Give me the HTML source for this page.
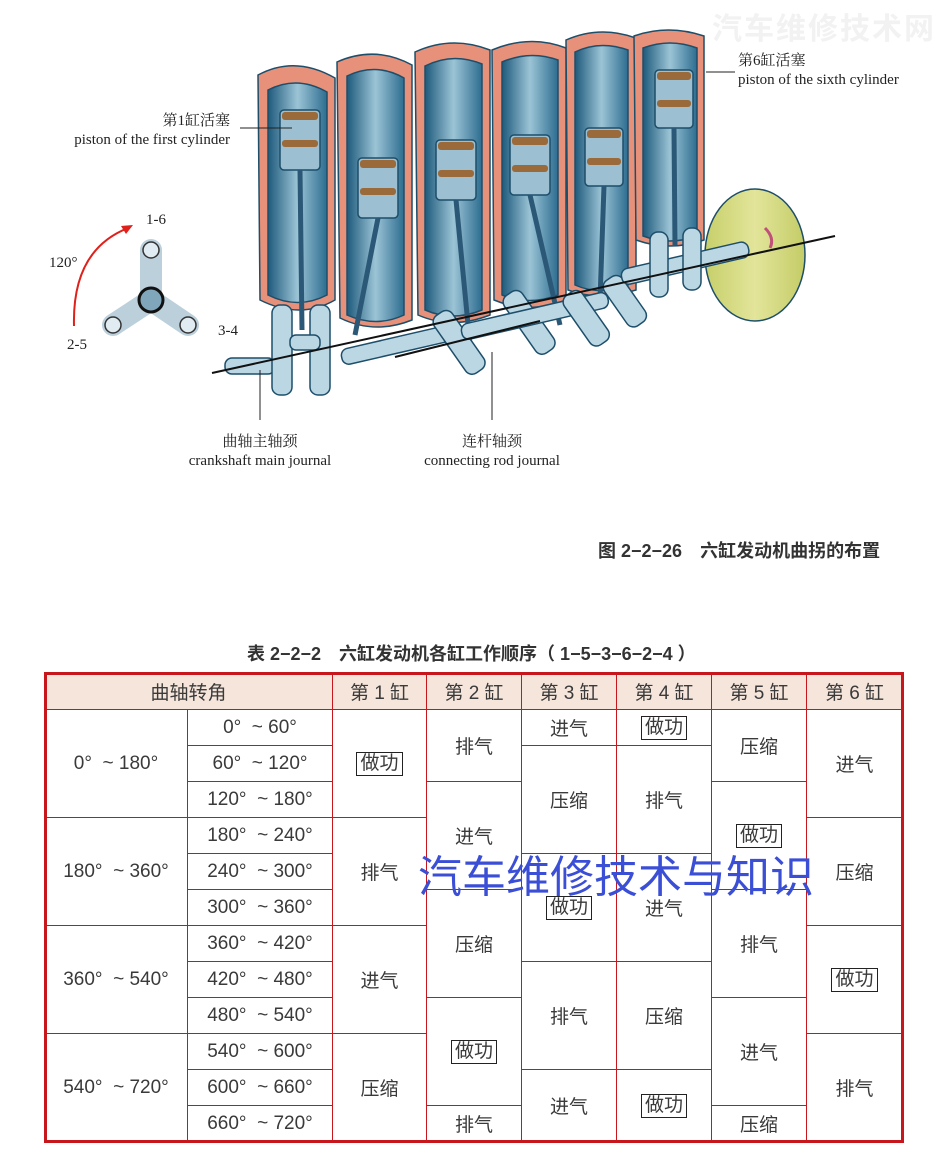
<!DOCTYPE html>
<html><head><meta charset="utf-8"><style>
body{margin:0;width:948px;height:1161px;background:#fff;position:relative;overflow:hidden;font-family:"Liberation Sans","Noto Sans CJK SC",sans-serif;}
.c{position:absolute;box-sizing:border-box;border-right:1px solid #c8161d;border-bottom:1px solid #c8161d;display:flex;align-items:center;justify-content:center;font-size:19px;color:#3a3a3a;white-space:pre;}
.h{background:#f6e5db;}
.b{border:1.5px solid #222;padding:0 3px;line-height:22px;}
.t{position:absolute;font-family:"Liberation Serif","Noto Serif CJK SC",serif;font-size:15px;color:#222;line-height:19px;white-space:nowrap;}
</style></head><body>
<svg width="948" height="620" style="position:absolute;left:0;top:0">
<defs>
<linearGradient id="cy" x1="0" x2="1"><stop offset="0" stop-color="#1e5a7c"/><stop offset=".5" stop-color="#9cc4d6"/><stop offset="1" stop-color="#2d6d90"/></linearGradient>
<linearGradient id="fw" x1="0" x2="1"><stop offset="0" stop-color="#c7cf6a"/><stop offset=".5" stop-color="#e2e59a"/><stop offset="1" stop-color="#c4cc66"/></linearGradient>
</defs>
<g stroke="#1d4e6a" stroke-width="1.5">
<path d="M258,75 Q295,55 335,78 L335,300 Q300,320 260,300 Z" fill="#e8917a"/><path d="M268,90 Q297,75 327,92 L327,295 Q298,310 268,295 Z" fill="url(#cy)"/>
<path d="M337,62 Q375,45 412,65 L412,320 Q375,335 340,318 Z" fill="#e8917a"/><path d="M347,76 Q376,62 404,78 L404,315 Q376,328 347,315 Z" fill="url(#cy)"/>
<path d="M415,52 Q452,35 490,50 L490,315 Q452,330 418,315 Z" fill="#e8917a"/><path d="M425,66 Q453,52 482,64 L482,310 Q453,322 425,310 Z" fill="url(#cy)"/>
<path d="M492,50 Q530,34 566,48 L566,300 Q530,315 494,300 Z" fill="#e8917a"/><path d="M502,62 Q530,50 558,60 L558,295 Q530,306 502,295 Z" fill="url(#cy)"/>
<path d="M566,40 Q600,25 636,38 L636,290 Q600,302 568,290 Z" fill="#e8917a"/><path d="M575,52 Q600,40 628,50 L628,285 Q600,296 575,285 Z" fill="url(#cy)"/>
<path d="M634,36 Q668,24 704,36 L704,240 Q670,252 636,240 Z" fill="#e8917a"/><path d="M643,48 Q670,38 697,48 L697,236 Q670,246 643,236 Z" fill="url(#cy)"/>
</g>
<g fill="#9cc0d2" stroke="#1d4e6a" stroke-width="1.5">
<rect x="280" y="110" width="40" height="60" rx="4"/><rect x="358" y="158" width="40" height="60" rx="4"/><rect x="436" y="140" width="40" height="60" rx="4"/><rect x="510" y="135" width="40" height="60" rx="4"/><rect x="585" y="128" width="38" height="58" rx="4"/><rect x="655" y="70" width="38" height="58" rx="4"/>
</g>
<g fill="#9a6a3a"><rect x="282" y="112" width="36" height="8" rx="3"/><rect x="282" y="140" width="36" height="7" rx="3"/><rect x="360" y="160" width="36" height="8" rx="3"/><rect x="360" y="188" width="36" height="7" rx="3"/><rect x="438" y="142" width="36" height="8" rx="3"/><rect x="438" y="170" width="36" height="7" rx="3"/><rect x="512" y="137" width="36" height="8" rx="3"/><rect x="512" y="165" width="36" height="7" rx="3"/><rect x="587" y="130" width="34" height="8" rx="3"/><rect x="587" y="158" width="34" height="7" rx="3"/><rect x="657" y="72" width="34" height="8" rx="3"/><rect x="657" y="100" width="34" height="7" rx="3"/></g>
<g stroke="#2c5877" stroke-width="5"><line x1="300" y1="170" x2="302" y2="330"/><line x1="378" y1="218" x2="355" y2="335"/><line x1="456" y1="200" x2="470" y2="345"/><line x1="530" y1="195" x2="560" y2="325"/><line x1="604" y1="186" x2="600" y2="300"/><line x1="674" y1="128" x2="675" y2="245"/></g>
<ellipse cx="755" cy="255" rx="50" ry="66" fill="url(#fw)" stroke="#1d4e6a" stroke-width="1.5"/>
<path d="M765,228 Q775,238 770,248" stroke="#c0507a" stroke-width="3" fill="none"/>
<g fill="#bcd7e4" stroke="#1d4e6a" stroke-width="1.5">
<rect x="225" y="358" width="50" height="16" rx="7"/><rect x="272" y="305" width="20" height="90" rx="8"/><rect x="310" y="305" width="20" height="90" rx="8"/><rect x="290" y="335" width="30" height="15" rx="6"/>
<rect x="340" y="350" width="110" height="16" rx="7" transform="rotate(-13 340 350)"/>
<rect x="430" y="320" width="22" height="70" rx="8" transform="rotate(-35 430 320)"/><rect x="500" y="300" width="22" height="70" rx="8" transform="rotate(-35 500 300)"/>
<rect x="460" y="325" width="150" height="16" rx="7" transform="rotate(-13 460 325)"/>
<rect x="560" y="300" width="22" height="60" rx="8" transform="rotate(-35 560 300)"/><rect x="600" y="285" width="22" height="55" rx="8" transform="rotate(-35 600 285)"/>
<rect x="620" y="270" width="130" height="16" rx="7" transform="rotate(-13 620 270)"/>
<rect x="650" y="232" width="18" height="65" rx="8"/><rect x="683" y="228" width="18" height="62" rx="8"/>
</g>
<line x1="212" y1="373" x2="835" y2="236" stroke="#111" stroke-width="2"/>
<line x1="395" y1="357" x2="540" y2="321" stroke="#111" stroke-width="2"/>
<g stroke="#222" stroke-width="1"><line x1="240" y1="128" x2="292" y2="128"/><line x1="706" y1="72" x2="735" y2="72"/><line x1="260" y1="370" x2="260" y2="420"/><line x1="492" y1="352" x2="492" y2="420"/></g>
<g stroke="#333" stroke-width="1.5">
<line x1="151" y1="250" x2="151" y2="300" stroke="#bcd0dc" stroke-width="22" stroke-linecap="round"/>
<line x1="151" y1="300" x2="113" y2="325" stroke="#bcd0dc" stroke-width="22" stroke-linecap="round"/>
<line x1="151" y1="300" x2="188" y2="325" stroke="#bcd0dc" stroke-width="22" stroke-linecap="round"/>
<circle cx="151" cy="250" r="8" fill="#e0ecf2"/><circle cx="113" cy="325" r="8" fill="#e0ecf2"/><circle cx="188" cy="325" r="8" fill="#e0ecf2"/>
<circle cx="151" cy="300" r="12" fill="#7fa6ba" stroke="#111" stroke-width="3"/>
</g>
<path d="M74,326 Q72,250 128,228" stroke="#e0201a" stroke-width="2" fill="none"/><path d="M133,225 L121,226 L126,234 Z" fill="#e0201a"/>
</svg>
<div class="t" style="left:146px;top:211px">1-6</div>
<div class="t" style="left:49px;top:254px">120°</div>
<div class="t" style="left:67px;top:336px">2-5</div>
<div class="t" style="left:218px;top:322px">3-4</div>
<div class="t" style="left:30px;top:112px;text-align:right;width:200px">第1缸活塞<br>piston of the first cylinder</div>
<div class="t" style="left:738px;top:52px">第6缸活塞<br>piston of the sixth cylinder</div>
<div class="t" style="left:160px;top:433px;text-align:center;width:200px">曲轴主轴颈<br>crankshaft main journal</div>
<div class="t" style="left:392px;top:433px;text-align:center;width:200px">连杆轴颈<br>connecting rod journal</div>
<div style="position:absolute;left:712px;top:4px;font-size:30px;font-weight:bold;color:#f2f2f2;letter-spacing:2px">汽车维修技术网</div>
<div style="position:absolute;left:598px;top:537px;font-size:18px;font-weight:bold;color:#333;white-space:nowrap">图 2−2−26　六缸发动机曲拐的布置</div>
<div style="position:absolute;left:247px;top:640px;font-size:18px;font-weight:bold;color:#333;white-space:nowrap">表 2−2−2　六缸发动机各缸工作顺序（ 1−5−3−6−2−4 ）</div>

<div class="c h" style="left:45px;top:673px;width:288px;height:37px">曲轴转角</div>
<div class="c h" style="left:333px;top:673px;width:94px;height:37px">第 1 缸</div>
<div class="c h" style="left:427px;top:673px;width:95px;height:37px">第 2 缸</div>
<div class="c h" style="left:522px;top:673px;width:95px;height:37px">第 3 缸</div>
<div class="c h" style="left:617px;top:673px;width:95px;height:37px">第 4 缸</div>
<div class="c h" style="left:712px;top:673px;width:95px;height:37px">第 5 缸</div>
<div class="c h" style="left:807px;top:673px;width:96px;height:37px">第 6 缸</div>

<div class="c" style="left:45px;top:710px;width:143px;height:108px">0°  ~ 180°</div>
<div class="c" style="left:45px;top:818px;width:143px;height:108px">180°  ~ 360°</div>
<div class="c" style="left:45px;top:926px;width:143px;height:108px">360°  ~ 540°</div>
<div class="c" style="left:45px;top:1034px;width:143px;height:108px">540°  ~ 720°</div>

<div class="c" style="left:188px;top:710px;width:145px;height:36px">0°  ~ 60°</div>
<div class="c" style="left:188px;top:746px;width:145px;height:36px">60°  ~ 120°</div>
<div class="c" style="left:188px;top:782px;width:145px;height:36px">120°  ~ 180°</div>
<div class="c" style="left:188px;top:818px;width:145px;height:36px">180°  ~ 240°</div>
<div class="c" style="left:188px;top:854px;width:145px;height:36px">240°  ~ 300°</div>
<div class="c" style="left:188px;top:890px;width:145px;height:36px">300°  ~ 360°</div>
<div class="c" style="left:188px;top:926px;width:145px;height:36px">360°  ~ 420°</div>
<div class="c" style="left:188px;top:962px;width:145px;height:36px">420°  ~ 480°</div>
<div class="c" style="left:188px;top:998px;width:145px;height:36px">480°  ~ 540°</div>
<div class="c" style="left:188px;top:1034px;width:145px;height:36px">540°  ~ 600°</div>
<div class="c" style="left:188px;top:1070px;width:145px;height:36px">600°  ~ 660°</div>
<div class="c" style="left:188px;top:1106px;width:145px;height:36px">660°  ~ 720°</div>

<div class="c" style="left:333px;top:710px;width:94px;height:108px"><span class="b">做功</span></div>
<div class="c" style="left:333px;top:818px;width:94px;height:108px">排气</div>
<div class="c" style="left:333px;top:926px;width:94px;height:108px">进气</div>
<div class="c" style="left:333px;top:1034px;width:94px;height:108px">压缩</div>

<div class="c" style="left:427px;top:710px;width:95px;height:72px">排气</div>
<div class="c" style="left:427px;top:782px;width:95px;height:108px">进气</div>
<div class="c" style="left:427px;top:890px;width:95px;height:108px">压缩</div>
<div class="c" style="left:427px;top:998px;width:95px;height:108px"><span class="b">做功</span></div>
<div class="c" style="left:427px;top:1106px;width:95px;height:36px">排气</div>

<div class="c" style="left:522px;top:710px;width:95px;height:36px">进气</div>
<div class="c" style="left:522px;top:746px;width:95px;height:108px">压缩</div>
<div class="c" style="left:522px;top:854px;width:95px;height:108px"><span class="b">做功</span></div>
<div class="c" style="left:522px;top:962px;width:95px;height:108px">排气</div>
<div class="c" style="left:522px;top:1070px;width:95px;height:72px">进气</div>

<div class="c" style="left:617px;top:710px;width:95px;height:36px"><span class="b">做功</span></div>
<div class="c" style="left:617px;top:746px;width:95px;height:108px">排气</div>
<div class="c" style="left:617px;top:854px;width:95px;height:108px">进气</div>
<div class="c" style="left:617px;top:962px;width:95px;height:108px">压缩</div>
<div class="c" style="left:617px;top:1070px;width:95px;height:72px"><span class="b">做功</span></div>

<div class="c" style="left:712px;top:710px;width:95px;height:72px">压缩</div>
<div class="c" style="left:712px;top:782px;width:95px;height:108px"><span class="b">做功</span></div>
<div class="c" style="left:712px;top:890px;width:95px;height:108px">排气</div>
<div class="c" style="left:712px;top:998px;width:95px;height:108px">进气</div>
<div class="c" style="left:712px;top:1106px;width:95px;height:36px">压缩</div>

<div class="c" style="left:807px;top:710px;width:96px;height:108px">进气</div>
<div class="c" style="left:807px;top:818px;width:96px;height:108px">压缩</div>
<div class="c" style="left:807px;top:926px;width:96px;height:108px"><span class="b">做功</span></div>
<div class="c" style="left:807px;top:1034px;width:96px;height:108px">排气</div>

<div style="position:absolute;left:44px;top:672px;width:860px;height:471px;box-sizing:border-box;border:3px solid #c8161d"></div>
<div style="position:absolute;left:418px;top:845px;font-size:44px;color:#3b4fd6;white-space:nowrap;font-family:'Noto Sans CJK SC',sans-serif;line-height:56px">汽车维修技术与知识</div>
</body></html>
